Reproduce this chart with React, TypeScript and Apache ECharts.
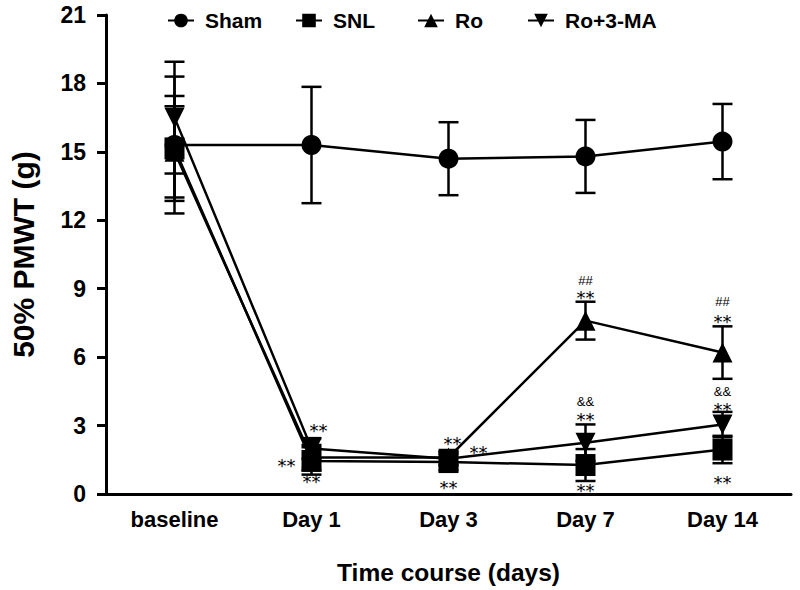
import React, { useEffect, useRef } from "react";
import * as echarts from "echarts";

const categories = ["baseline", "Day 1", "Day 3", "Day 7", "Day 14"];
const yTicks = [0, 3, 6, 9, 12, 15, 18, 21];

const shamMean = [15.3, 15.3, 14.7, 14.8, 15.45];
const shamErr = [3.0, 2.55, 1.6, 1.6, 1.65];
const snlMean = [15.15, 1.45, 1.4, 1.27, 1.95];
const snlErr = [2.3, 0.6, 0.35, 0.7, 0.6];
const roMean = [15.0, 1.6, 1.6, 7.6, 6.2];
const roErr = [2.0, 0.55, 0.3, 0.83, 1.15];
const ro3maMean = [16.5, 2.0, 1.55, 2.25, 3.05];
const ro3maErr = [2.45, 0.45, 0.3, 0.8, 0.55];

// significance marks: [category index, value, text, horizontal shift]
const marks: [number, number, string, number][] = [
  [1, 2.97, "**", 7],
  [1, 1.44, "**", -25],
  [1, 0.74, "**", 0],
  [2, 2.4, "**", 4],
  [2, 2.0, "**", 30],
  [2, 0.44, "**", 0],
  [3, 9.38, "##", 0],
  [3, 8.8, "**", 0],
  [3, 4.04, "&&", 0],
  [3, 3.46, "**", 0],
  [3, 0.35, "**", 0],
  [4, 8.44, "##", 0],
  [4, 7.74, "**", 0],
  [4, 4.5, "&&", 0],
  [4, 3.9, "**", 0],
  [4, 0.66, "**", 0],
];

const seriesNames = ["Sham", "SNL", "Ro", "Ro+3-MA"];
const FONT = "Liberation Sans, Arial, sans-serif";

export default function App() {
  const ref = useRef<HTMLDivElement>(null);
  useEffect(() => {
    if (!ref.current) return;
    const chart = echarts.init(ref.current, null, { renderer: "svg" });
    const means = [shamMean, snlMean, roMean, ro3maMean];
    const errs = [shamErr, snlErr, roErr, ro3maErr];
    const symbols: any[] = ["circle", "rect", "triangle", "path://M0,0L20,0L10,18Z"];
    const sizes: any[] = [20, [20, 22], 20, 20];
    const legendLeft = [162, 290, 412, 522];

    const lineSeries = seriesNames.map((n, i) => ({
      name: n,
      type: "line",
      data: means[i],
      symbol: symbols[i],
      symbolSize: sizes[i],
      itemStyle: { color: "#000" },
      lineStyle: { color: "#000", width: 2.5 },
      z: 3,
    }));

    const errData: number[][] = [];
    means.forEach((m, s) => m.forEach((v, k) => errData.push([k, v, errs[s][k]])));

    const errSeries = {
      type: "custom",
      data: errData,
      z: 2,
      silent: true,
      encode: { x: 0, y: 1 },
      renderItem: (params: any, api: any) => {
        const k = api.value(0);
        const m = api.value(1);
        const e = api.value(2);
        const top = api.coord([k, m + e]);
        const bot = api.coord([k, m - e]);
        const hw = 10;
        const st = { stroke: "#000", lineWidth: 2.5 };
        return {
          type: "group",
          children: [
            { type: "line", shape: { x1: top[0], y1: top[1], x2: bot[0], y2: bot[1] }, style: st },
            { type: "line", shape: { x1: top[0] - hw, y1: top[1], x2: top[0] + hw, y2: top[1] }, style: st },
            { type: "line", shape: { x1: bot[0] - hw, y1: bot[1], x2: bot[0] + hw, y2: bot[1] }, style: st },
          ],
        };
      },
    };

    const markSeries = {
      type: "custom",
      data: marks.map((m) => [m[0], m[1], m[3]]),
      z: 5,
      silent: true,
      encode: { x: 0, y: 1 },
      renderItem: (params: any, api: any) => {
        const p = api.coord([api.value(0), api.value(1)]);
        const txt = marks[params.dataIndex][2];
        const isStar = txt === "**";
        return {
          type: "text",
          x: p[0] + api.value(2),
          y: p[1] + (isStar ? 4 : 0),
          style: {
            text: txt,
            fill: "#000",
            font: isStar ? `18px DejaVu Sans, ${FONT}` : `13px ${FONT}`,
            textAlign: "center",
            textVerticalAlign: "middle",
          },
        };
      },
    };

    chart.setOption({
      animation: false,
      backgroundColor: "#fff",
      textStyle: { fontFamily: FONT },
      legend: seriesNames.map((n, i) => ({
        data: [n],
        left: legendLeft[i],
        top: 5,
        itemWidth: 26,
        itemHeight: 17,
        selectedMode: false,
        textStyle: { fontSize: 21, fontWeight: "bold", color: "#000", fontFamily: FONT, padding: [0, 0, 0, 6] },
      })),
      grid: { left: 100, right: 9, top: 15, bottom: 95, containLabel: false },
      xAxis: {
        type: "category",
        data: categories,
        boundaryGap: true,
        name: "Time course (days)",
        nameLocation: "middle",
        nameGap: 66,
        nameTextStyle: { fontSize: 24.5, fontWeight: "bold", color: "#000", fontFamily: FONT },
        axisLine: { lineStyle: { color: "#000", width: 3 } },
        axisTick: { alignWithLabel: true, length: 9, lineStyle: { color: "#000", width: 3 } },
        axisLabel: { fontSize: 22, fontWeight: "bold", color: "#000", margin: 14, fontFamily: FONT },
      },
      yAxis: {
        type: "value",
        min: 0,
        max: 21,
        interval: 3,
        name: "50% PMWT (g)",
        nameLocation: "middle",
        nameGap: 68,
        nameTextStyle: { fontSize: 30, fontWeight: "bold", color: "#000", fontFamily: FONT },
        axisLine: { show: true, lineStyle: { color: "#000", width: 3 } },
        axisTick: { show: true, length: 9, lineStyle: { color: "#000", width: 3 } },
        axisLabel: {
          fontSize: 23,
          fontWeight: "bold",
          color: "#000",
          margin: 20,
          fontFamily: FONT,
          formatter: (v: number) => (yTicks.includes(v) ? String(v) : ""),
        },
        splitLine: { show: false },
      },
      series: [...lineSeries, errSeries, markSeries],
    });
    return () => chart.dispose();
  }, []);
  return <div ref={ref} style={{ width: 800, height: 590, position: "absolute", left: 0, top: 0 }} />;
}
